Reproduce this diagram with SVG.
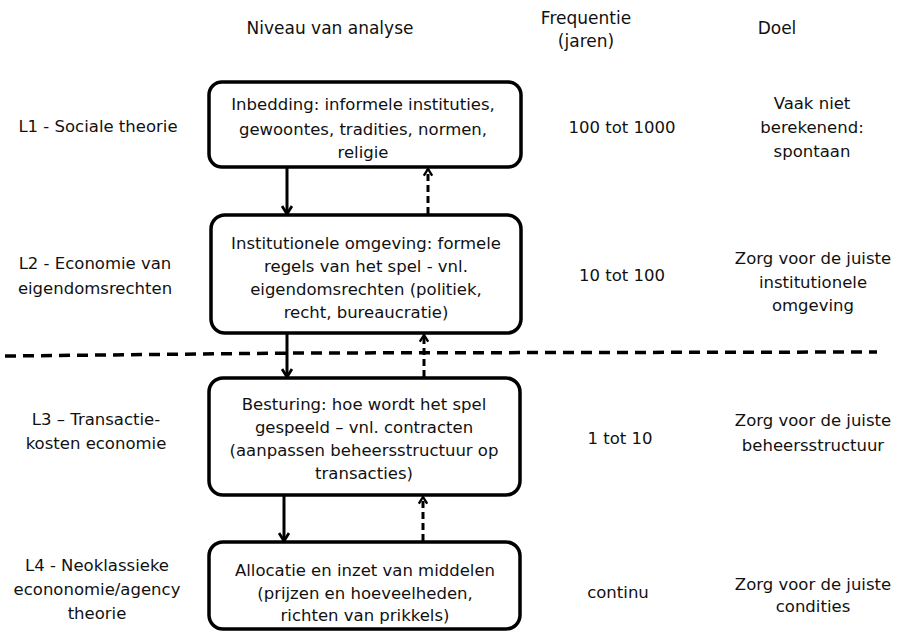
<svg xmlns="http://www.w3.org/2000/svg" width="899" height="632" viewBox="0 0 899 632">
  <defs>
    <marker id="head" viewBox="0 0 12 12" refX="10" refY="6" markerWidth="12" markerHeight="12" markerUnits="userSpaceOnUse" orient="auto">
      <path d="M2,1 L10,6 L2,11" fill="none" stroke="#000" stroke-width="2.8"/>
    </marker>
    <marker id="headS" viewBox="0 0 12 12" refX="10" refY="6" markerWidth="10" markerHeight="10" markerUnits="userSpaceOnUse" orient="auto">
      <path d="M2,1 L10,6 L2,11" fill="none" stroke="#000" stroke-width="2.8"/>
    </marker>
  </defs>
  <style>
    text { font-family: "DejaVu Sans", sans-serif; fill: #111; text-anchor: middle; }
    .hdr { font-family: "DejaVu Sans Condensed", "DejaVu Sans", sans-serif; font-size: 17px; }
    .lbl { font-size: 16.5px; }
    .box { fill: #fff; stroke: #000; stroke-width: 3.5; }
    .down { stroke: #000; stroke-width: 3; fill: none; marker-end: url(#head); }
    .up { stroke: #000; stroke-width: 3; fill: none; stroke-dasharray: 7 4; marker-end: url(#headS); }
    .split { stroke: #000; stroke-width: 3.5; fill: none; stroke-dasharray: 11 7; }
  </style>
  <rect width="899" height="632" fill="#fff"/>

  <!-- column headings -->
  <g id="headings" class="hdr">
    <text x="330" y="34">Niveau van analyse</text>
    <text x="586" y="24">Frequentie</text>
    <text x="586" y="47">(jaren)</text>
    <text x="777" y="34">Doel</text>
  </g>

  <!-- boundary between the upper and lower levels -->
  <path class="split" d="M5,356 L300,353 L877,352"/>

  <!-- connectors -->
  <g id="connectors">
    <line class="down" x1="287" y1="168" x2="287" y2="214"/>
    <line class="up" x1="428" y1="214" x2="428" y2="169"/>
    <line class="down" x1="287" y1="334" x2="287" y2="377"/>
    <line class="up" x1="424" y1="377" x2="424" y2="335"/>
    <line class="down" x1="284" y1="496" x2="284" y2="541"/>
    <line class="up" x1="423" y1="541" x2="423" y2="497"/>
  </g>

  <!-- level 1 -->
  <g id="L1">
    <text class="lbl" x="98" y="132">L1 - Sociale theorie</text>
    <rect class="box" x="209" y="82" width="312" height="85" rx="13"/>
    <text class="lbl" x="363" y="110">Inbedding: informele instituties,</text>
    <text class="lbl" x="363" y="135">gewoontes, tradities, normen,</text>
    <text class="lbl" x="363" y="158">religie</text>
    <text class="lbl" x="622" y="133">100 tot 1000</text>
    <text class="lbl" x="812" y="109">Vaak niet</text>
    <text class="lbl" x="812" y="133">berekenend:</text>
    <text class="lbl" x="812" y="157">spontaan</text>
  </g>

  <!-- level 2 -->
  <g id="L2">
    <text class="lbl" x="95" y="269">L2 - Economie van</text>
    <text class="lbl" x="95" y="294">eigendomsrechten</text>
    <rect class="box" x="211" y="215" width="310" height="118" rx="14"/>
    <text class="lbl" x="366" y="249">Institutionele omgeving: formele</text>
    <text class="lbl" x="366" y="272">regels van het spel - vnl.</text>
    <text class="lbl" x="366" y="295">eigendomsrechten (politiek,</text>
    <text class="lbl" x="366" y="318">recht, bureaucratie)</text>
    <text class="lbl" x="622" y="281">10 tot 100</text>
    <text class="lbl" x="813" y="264">Zorg voor de juiste</text>
    <text class="lbl" x="813" y="288">institutionele</text>
    <text class="lbl" x="813" y="311">omgeving</text>
  </g>

  <!-- level 3 -->
  <g id="L3">
    <text class="lbl" x="96" y="425">L3 – Transactie-</text>
    <text class="lbl" x="96" y="449">kosten economie</text>
    <rect class="box" x="209" y="378" width="311" height="117" rx="14"/>
    <text class="lbl" x="364" y="410">Besturing: hoe wordt het spel</text>
    <text class="lbl" x="364" y="433">gespeeld – vnl. contracten</text>
    <text class="lbl" x="364" y="456">(aanpassen beheersstructuur op</text>
    <text class="lbl" x="364" y="479">transacties)</text>
    <text class="lbl" x="620" y="444">1 tot 10</text>
    <text class="lbl" x="813" y="426">Zorg voor de juiste</text>
    <text class="lbl" x="813" y="451">beheersstructuur</text>
  </g>

  <!-- level 4 -->
  <g id="L4">
    <text class="lbl" x="97" y="571">L4 - Neoklassieke</text>
    <text class="lbl" x="97" y="595">econonomie/agency</text>
    <text class="lbl" x="97" y="619">theorie</text>
    <rect class="box" x="209" y="542" width="311" height="87" rx="14"/>
    <text class="lbl" x="365" y="576">Allocatie en inzet van middelen</text>
    <text class="lbl" x="365" y="599">(prijzen en hoeveelheden,</text>
    <text class="lbl" x="365" y="621">richten van prikkels)</text>
    <text class="lbl" x="618" y="598">continu</text>
    <text class="lbl" x="813" y="590">Zorg voor de juiste</text>
    <text class="lbl" x="813" y="612">condities</text>
  </g>
</svg>
